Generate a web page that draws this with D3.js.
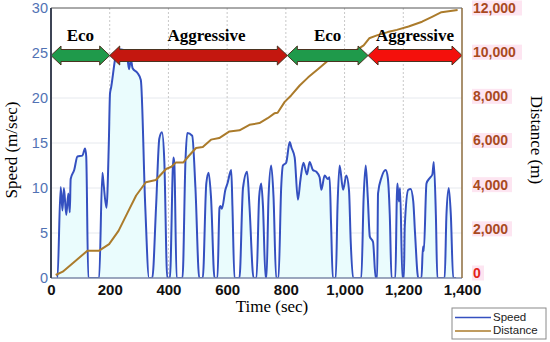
<!DOCTYPE html>
<html lang="en">
<head>
	<meta charset="UTF-8">
	<title>Speed and Distance</title>
	<script src="https://d3js.org/d3.v7.min.js"></script>
	<style>
		body{
			margin: 0;
			background: #fff;
		}
		svg{
			display: block;
		}
	</style>
</head>
<body>
	<div id="chart"></div>
	<script>
		// time (sec), speed (m/sec)
		var speedSeries = [
			[20,0],[22,0],[33,10.1],[39,7.5],[44,10],[52,7],[59,9.4],[64,7.3],[67,11],[79,12],[90,13.5],[107,13.6],
			[116,14.4],[120,13.5],[127,0],[164,0],[175,11.7],[179,10.5],[189,7.8],[197,15],[201,20.5],[205,21.2],
			[221,24.8],[227,25.4],[239,25.4],[256,25.2],[262,24],[266,23.2],[272,24.3],[278,23.3],[294,22.8],[306,22],[321,8],
			[334,0],[345,0],[358,8],[369,15.5],[378,16.2],[386,13],[396,0],[405,0],[417,13.4],[420,12.8],[428,0],
			[448,0],[458,13],[464,16.1],[481,15.8],[492,10],[505,0],[517,0],[529,10.5],[537,11.7],[545,9],[557,0],
			[567,0],[574,7.8],[577,8],[582,7.7],[594,9.8],[601,10.5],[614,12],[618,8],[625,0],[642,0],[654,10],
			[668,11.8],[676,8],[690,0],[700,0],[709,9],[716,10.5],[722,8],[731,0],[734,0],[741,9],[750,12.5],
			[758,9],[767,0],[775,0],[784,10],[790,12.5],[801,12.8],[813,15.1],[819,14.5],[830,13.4],[841,8.7],
			[850,11],[860,12.8],[872,11.5],[881,12.9],[892,12],[904,11.8],[915,11.2],[921,9.8],[932,11.4],[943,11],
			[949,11.2],[954,6],[960,0],[970,0],[976,8],[983,12.5],[995,9.8],[1006,11.4],[1015,9.8],[1021,4],
			[1029,0],[1057,0],[1065,9],[1072,12.5],[1079,9],[1086,4.6],[1097,4],[1106,0],[1111,0],[1114,9.4],
			[1126,11.2],[1140,12],[1147,11.2],[1154,7],[1160,0],[1173,0],[1178,9],[1180,10.5],[1185,8.5],[1189,10],
			[1197,0],[1202,0],[1205,5.7],[1217,9.8],[1225,9.9],[1234,8.5],[1240,5],[1251,0],[1262,0],[1267,3.5],
			[1270,3],[1279,10.5],[1290,11.1],[1299,11.5],[1304,12.9],[1311,7],[1316,0],[1341,0],[1347,7],[1355,10],
			[1362,7],[1370,0],[1380,0]
		];
		// time (sec), distance (m)
		var distanceSeries = [
			[16,0],[40,150],[80,600],[124,1100],[164,1100],[198,1400],[230,2000],[260,2800],[290,3600],[323,4200],
			[357,4300],[392,4800],[410,4900],[426,5100],[451,5100],[470,5400],[494,5750],[517,5800],[545,6130],
			[573,6200],[608,6500],[642,6550],[676,6800],[710,6880],[738,7100],[761,7320],[772,7350],[796,7840],
			[818,8130],[847,8580],[876,8950],[910,9330],[949,9770],[995,10060],[1040,10180],[1065,10400],
			[1084,10720],[1110,10850],[1147,11000],[1178,11100],[1218,11250],[1264,11470],[1298,11690],
			[1330,11900],[1385,12000]
		];
		var timeTicks = [0,200,400,600,800,1000,1200,1400];
		var speedTicks = [0,5,10,15,20,25,30];
		var distanceTicks = [0,2000,4000,6000,8000,10000,12000];
		var modeLabels = ['Eco','Aggressive','Eco','Aggressive'];
		var modeStart = [0,200,805,1080];
		var modeEnd = [200,805,1080,1400];
		var modeColors = ['#1f9a4b','#c4170f','#1f9a4b','#f4100c'];

		var W = 550, H = 342;
		var pL = 51, pR = 462, pT = 8, pB = 278;
		var svg = d3.select('#chart').append('svg')
						.attr('width',W)
						.attr('height',H);

		var x = d3.scaleLinear().domain([0,1400]).range([pL,pR]);
		var y = d3.scaleLinear().domain([0,30]).range([pB,pT]);
		var yd = d3.scaleLinear().domain([0,12000]).range([pB-3,pT+2]);

		svg.append('clipPath').attr('id','clip')
			.append('rect').attr('x',pL).attr('y',pT).attr('width',pR-pL).attr('height',pB-pT);

		//grid
		svg.append('g').selectAll('line').data(speedTicks.slice(1,-1)).enter().append('line')
			.attr('x1',pL).attr('x2',pR)
			.attr('y1',function(d){ return y(d); }).attr('y2',function(d){ return y(d); })
			.attr('stroke','#e6e9ee').attr('stroke-width',1);
		svg.append('g').selectAll('line').data(timeTicks.slice(1,-1)).enter().append('line')
			.attr('x1',function(d){ return x(d); }).attr('x2',function(d){ return x(d); })
			.attr('y1',pT).attr('y2',pB)
			.attr('stroke','#c8c8c8').attr('stroke-width',1).attr('stroke-dasharray','2,2');

		var plot = svg.append('g').attr('clip-path','url(#clip)');

		plot.append('path').datum(speedSeries)
			.attr('fill','#eafcfd')
			.attr('d',d3.area().curve(d3.curveMonotoneX).x(function(d){ return x(d[0]); }).y0(pB).y1(function(d){ return y(d[1]); }));

		plot.append('path').datum(speedSeries)
			.attr('fill','none')
			.attr('stroke','#3450c0')
			.attr('stroke-width',2)
			.attr('stroke-linejoin','round')
			.attr('d',d3.line().curve(d3.curveMonotoneX).x(function(d){ return x(d[0]); }).y(function(d){ return y(d[1]); }));

		//mode arrows
		var yc = y(25) + 2.5, sh = 6, hh = 9.5, hl = 10;
		modeLabels.forEach(function(label,i){
			var x0 = x(modeStart[i]), x1 = x(modeEnd[i]);
			var pts = [[x0,yc],[x0+hl,yc-hh],[x0+hl,yc-sh],[x1-hl,yc-sh],[x1-hl,yc-hh],[x1,yc],
						[x1-hl,yc+hh],[x1-hl,yc+sh],[x0+hl,yc+sh],[x0+hl,yc+hh]];
			svg.append('polygon')
				.attr('points',pts.map(function(p){ return p.join(','); }).join(' '))
				.attr('fill',modeColors[i])
				.attr('stroke','#4a3320')
				.attr('stroke-width',1);
			svg.append('text')
				.attr('x',(x0+x1)/2 + (i==1 ? 8 : 0))
				.attr('y',yc-15)
				.attr('text-anchor','middle')
				.style('font-family','"Liberation Serif", "DejaVu Serif", serif')
				.style('font-weight','bold')
				.style('font-size','17px')
				.text(label);
		});

		plot.append('path').datum(distanceSeries)
			.attr('fill','none')
			.attr('stroke','#ab7b2b')
			.attr('stroke-width',2)
			.attr('stroke-linejoin','round')
			.attr('d',d3.line().x(function(d){ return x(d[0]); }).y(function(d){ return yd(d[1]); }));

		//frame
		svg.append('line').attr('x1',pL).attr('x2',pR).attr('y1',pT).attr('y2',pT)
			.attr('stroke','#555').attr('stroke-width',1);
		svg.append('line').attr('x1',pL).attr('x2',pR).attr('y1',pB).attr('y2',pB)
			.attr('stroke','#7d8aa8').attr('stroke-width',1.5);
		svg.append('line').attr('x1',pL).attr('x2',pL).attr('y1',pT).attr('y2',pB)
			.attr('stroke','#3d4455').attr('stroke-width',2);
		svg.append('line').attr('x1',pR).attr('x2',pR).attr('y1',pT).attr('y2',pB)
			.attr('stroke','#8c6d3e').attr('stroke-width',1.5);

		//axes
		var xAxis = svg.append('g')
			.attr('transform','translate(0,' + pB + ')')
			.call(d3.axisBottom(x).tickValues(timeTicks).tickSize(0).tickPadding(6).tickFormat(d3.format(',')));
		xAxis.select('.domain').remove();
		xAxis.selectAll('text')
			.style('font-family','"Liberation Sans", Arial, sans-serif')
			.style('font-weight','bold')
			.style('font-size','15px')
			.attr('fill','#111');

		var yAxis = svg.append('g')
			.attr('transform','translate(' + (pL-2) + ',0)')
			.call(d3.axisLeft(y).tickValues(speedTicks).tickSize(0).tickPadding(1));
		yAxis.select('.domain').remove();
		yAxis.selectAll('text')
			.style('font-family','"Liberation Sans", Arial, sans-serif')
			.style('font-size','14.5px')
			.attr('fill','#5172b4');

		var yAxisR = svg.append('g')
			.attr('transform','translate(' + (pR+11) + ',-2)')
			.call(d3.axisRight(yd).tickValues(distanceTicks).tickSize(0).tickPadding(0).tickFormat(d3.format(',')));
		yAxisR.select('.domain').remove();
		yAxisR.selectAll('.tick').insert('rect','text')
			.attr('x',-1).attr('y',-8).attr('height',15)
			.attr('width',function(d){ return d == 0 ? 12 : (d < 10000 ? 40 : 50); })
			.attr('fill','#fde5f1');
		yAxisR.selectAll('text')
			.style('font-family','"Liberation Sans", Arial, sans-serif')
			.style('font-weight','bold')
			.style('font-size','14px')
			.attr('fill',function(d){ return d == 0 ? '#e2231a' : '#a94a1e'; });

		//titles
		svg.append('text')
			.attr('transform','translate(13,150) rotate(-90)')
			.attr('text-anchor','middle')
			.attr('dominant-baseline','middle')
			.style('font-family','"Liberation Serif", serif')
			.style('font-size','17px')
			.text('Speed (m/sec)');
		svg.append('text')
			.attr('transform','translate(535,140) rotate(90)')
			.attr('text-anchor','middle')
			.attr('dominant-baseline','middle')
			.style('font-family','"Liberation Serif", serif')
			.style('font-size','17px')
			.text('Distance (m)');
		svg.append('text')
			.attr('x',272).attr('y',312)
			.attr('text-anchor','middle')
			.style('font-family','"Liberation Serif", serif')
			.style('font-size','17px')
			.text('Time (sec)');

		//legend
		var legend = svg.append('g').attr('transform','translate(452,308)');
		legend.append('rect').attr('width',94).attr('height',31)
			.attr('fill','#fff').attr('stroke','#8a8a8a');
		[['Speed','#3450c0'],['Distance','#ab7b2b']].forEach(function(d,i){
			legend.append('line').attr('x1',3).attr('x2',39)
				.attr('y1',9.5 + i*13.5).attr('y2',9.5 + i*13.5)
				.attr('stroke',d[1]).attr('stroke-width',1.5);
			legend.append('text').attr('x',41).attr('y',9.5 + i*13.5)
				.attr('dominant-baseline','middle')
				.style('font-family','"Liberation Sans", Arial, sans-serif')
				.style('font-size','11.5px')
				.attr('fill','#222')
				.text(d[0]);
		});
	</script>
</body>
</html>
